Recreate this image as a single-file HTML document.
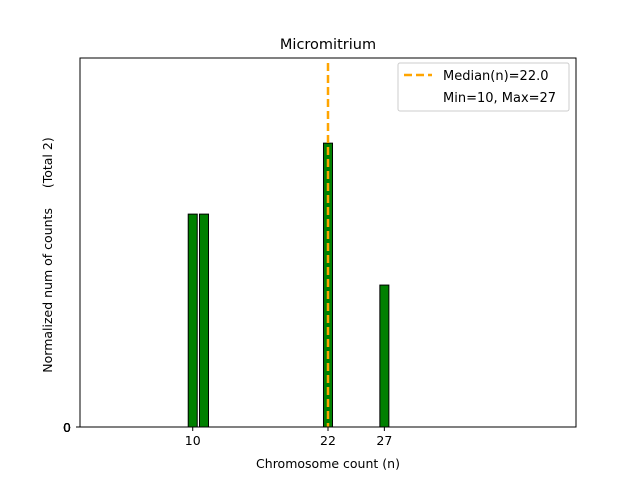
<!DOCTYPE html>
<html><head><meta charset="utf-8"><style>
body{margin:0;background:#fff;}
svg text{font-family:"DejaVu Sans","Liberation Sans",sans-serif;white-space:pre;}
</style></head><body>
<svg id="chart" width="640" height="480" viewBox="0 0 640 480" xmlns="http://www.w3.org/2000/svg">
<rect width="640" height="480" fill="#fff"/>
<text x="328" y="49" font-size="14.5" text-anchor="middle">Micromitrium</text>
<g id="bars"></g>
<g id="median"></g>
<rect x="80" y="58" width="496" height="369" fill="none" stroke="#000" stroke-width="1"/>
<g id="xticks"></g>
<g id="yticks"></g>
<text x="328" y="468" font-size="12.5" text-anchor="middle">Chromosome count (n)</text>
<text transform="translate(52,255) rotate(-90)" font-size="12.5" text-anchor="middle" xml:space="preserve">Normalized num of counts     (Total 2)</text>
<g>
<rect x="398" y="63" width="171" height="48" rx="2" fill="#fff" stroke="#ccc"/>
<line x1="404" y1="75" x2="432" y2="75" stroke="#ffa500" stroke-width="2.5" stroke-dasharray="8,4"/>
<text x="443" y="80" font-size="13">Median(n)=22.0</text>
<text x="443" y="102" font-size="13">Min=10, Max=27</text>
</g>
</svg>
<script>
const categories=[10,11,22,27];
const values=[0.75,0.75,1.0,0.5];
const xTickLabels=[10,22,27];
const yTickLabels=[0,0,0,0,0];
const medianValue=[22];
const X0=80,X1=576,Y0=427,Y1=58;
const xMin=0,xMax=44,yMin=0,yMax=1.3;
const xs=v=>X0+(v-xMin)/(xMax-xMin)*(X1-X0);
const ys=v=>Y0-(v-yMin)/(yMax-yMin)*(Y0-Y1);
const NS="http://www.w3.org/2000/svg";
const bw=0.8;
const bars=document.getElementById('bars');
categories.forEach((c,i)=>{
 const r=document.createElementNS(NS,'rect');
 const x=xs(c-bw/2),w=xs(c+bw/2)-x;
 r.setAttribute('x',x);r.setAttribute('width',w);
 r.setAttribute('y',ys(values[i]));r.setAttribute('height',ys(0)-ys(values[i]));
 r.setAttribute('fill','#008000');r.setAttribute('stroke','#000');r.setAttribute('stroke-width','1');
 
 
 bars.appendChild(r);
});
const med=document.getElementById('median');
medianValue.forEach(m=>{
 const l=document.createElementNS(NS,'line');
 l.setAttribute('x1',xs(m));l.setAttribute('x2',xs(m));
 l.setAttribute('y1',63);l.setAttribute('y2',Y0);
 l.setAttribute('stroke','#ffa500');l.setAttribute('stroke-width','2.5');l.setAttribute('stroke-dasharray','8,4');
 
 
 med.appendChild(l);
});
const xt=document.getElementById('xticks');
xTickLabels.forEach(t=>{
 const l=document.createElementNS(NS,'line');
 l.setAttribute('x1',xs(t));l.setAttribute('x2',xs(t));l.setAttribute('y1',Y0);l.setAttribute('y2',Y0+4);
 l.setAttribute('stroke','#000');
 
 
 xt.appendChild(l);
 const tx=document.createElementNS(NS,'text');
 tx.setAttribute('x',xs(t));tx.setAttribute('y',Y0+18);tx.setAttribute('font-size','12.5');tx.setAttribute('text-anchor','middle');
 tx.textContent=t;
 
 
 xt.appendChild(tx);
});
const yt=document.getElementById('yticks');
yTickLabels.forEach((t,i)=>{
 const l=document.createElementNS(NS,'line');
 l.setAttribute('x1',X0-4);l.setAttribute('x2',X0);l.setAttribute('y1',ys(t));l.setAttribute('y2',ys(t));
 l.setAttribute('stroke','#000');
 
 
 yt.appendChild(l);
 const tx=document.createElementNS(NS,'text');
 tx.setAttribute('x',X0-9);tx.setAttribute('y',ys(t)+5);tx.setAttribute('font-size','12.5');tx.setAttribute('text-anchor','end');
 tx.textContent=t;
 
 
 yt.appendChild(tx);
});
</script>
</body></html>
